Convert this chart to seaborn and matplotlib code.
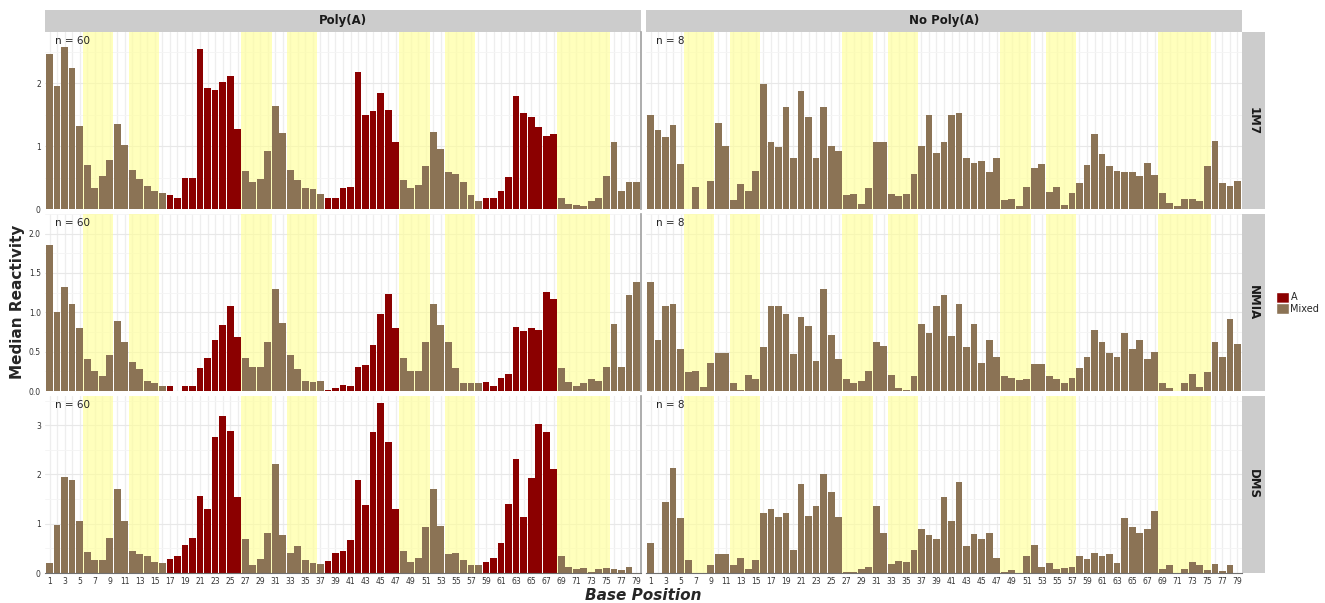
import matplotlib
matplotlib.use("Agg")
import pandas as pd
import matplotlib.pyplot as plt
import seaborn as sns
from matplotlib.patches import Rectangle, Patch

# ------------------------------
# Data
# ------------------------------
positions = list(range(1, 80))
a_positions = list(range(17, 27)) + list(range(38, 48)) + list(range(59, 69))
shaded_ranges = [(6, 9), (12, 15), (27, 30), (33, 36), (48, 51), (54, 57), (69, 75)]
conditions = ["Poly(A)", "No Poly(A)"]
reagents = ["1M7", "NMIA", "DMS"]
sample_sizes = {"Poly(A)": "n = 60", "No Poly(A)": "n = 8"}

polya_1m7 = [2.46, 1.95, 2.57, 2.24, 1.32, 0.70, 0.34, 0.53, 0.78, 1.36,
             1.02, 0.63, 0.48, 0.37, 0.29, 0.26, 0.23, 0.18, 0.50, 0.50,
             2.54, 1.93, 1.89, 2.01, 2.11, 1.27, 0.61, 0.43, 0.48, 0.93,
             1.64, 1.21, 0.63, 0.47, 0.34, 0.32, 0.24, 0.18, 0.18, 0.34,
             0.35, 2.17, 1.50, 1.56, 1.85, 1.58, 1.07, 0.47, 0.34, 0.39,
             0.68, 1.23, 0.96, 0.59, 0.56, 0.43, 0.23, 0.13, 0.18, 0.18,
             0.29, 0.51, 1.80, 1.52, 1.46, 1.31, 1.17, 1.19, 0.18, 0.08,
             0.07, 0.05, 0.13, 0.18, 0.53, 1.07, 0.29, 0.43, 0.43]
nopolya_1m7 = [1.50, 1.25, 1.15, 1.33, 0.72, 0.00, 0.35, 0.00, 0.45, 1.37,
               1.01, 0.15, 0.40, 0.29, 0.61, 1.99, 1.07, 0.99, 1.62, 0.82,
               1.87, 1.46, 0.82, 1.62, 1.01, 0.93, 0.23, 0.25, 0.08, 0.34,
               1.07, 1.07, 0.24, 0.21, 0.24, 0.56, 1.01, 1.49, 0.90, 1.07,
               1.49, 1.52, 0.82, 0.74, 0.76, 0.59, 0.82, 0.15, 0.16, 0.05,
               0.35, 0.66, 0.72, 0.28, 0.35, 0.07, 0.26, 0.42, 0.70, 1.19,
               0.88, 0.68, 0.61, 0.59, 0.59, 0.53, 0.74, 0.55, 0.26, 0.10,
               0.05, 0.16, 0.16, 0.13, 0.68, 1.09, 0.42, 0.37, 0.45]
polya_nmia = [1.86, 1.00, 1.32, 1.10, 0.80, 0.41, 0.26, 0.19, 0.46, 0.89,
              0.62, 0.37, 0.28, 0.13, 0.10, 0.07, 0.06, 0.00, 0.07, 0.07,
              0.30, 0.42, 0.65, 0.84, 1.08, 0.69, 0.42, 0.31, 0.31, 0.62,
              1.30, 0.86, 0.46, 0.28, 0.13, 0.12, 0.13, 0.01, 0.04, 0.08,
              0.06, 0.31, 0.33, 0.58, 0.98, 1.23, 0.80, 0.42, 0.26, 0.26,
              0.62, 1.10, 0.84, 0.62, 0.29, 0.10, 0.11, 0.11, 0.12, 0.07,
              0.17, 0.22, 0.82, 0.76, 0.80, 0.77, 1.26, 1.17, 0.29, 0.12,
              0.07, 0.11, 0.16, 0.13, 0.31, 0.85, 0.31, 1.22, 1.38]
nopolya_nmia = [1.38, 0.65, 1.08, 1.11, 0.54, 0.24, 0.26, 0.05, 0.36, 0.48,
                0.48, 0.10, 0.01, 0.20, 0.16, 0.56, 1.08, 1.08, 0.98, 0.47,
                0.94, 0.83, 0.38, 1.30, 0.71, 0.41, 0.16, 0.11, 0.13, 0.25,
                0.63, 0.57, 0.20, 0.04, 0.02, 0.19, 0.85, 0.74, 1.08, 1.22,
                0.70, 1.11, 0.56, 0.85, 0.36, 0.65, 0.44, 0.19, 0.17, 0.14,
                0.16, 0.35, 0.35, 0.19, 0.16, 0.11, 0.17, 0.30, 0.44, 0.77,
                0.63, 0.49, 0.44, 0.74, 0.54, 0.65, 0.41, 0.50, 0.10, 0.04,
                0.00, 0.11, 0.22, 0.05, 0.24, 0.63, 0.44, 0.92, 0.60]
polya_dms = [0.21, 0.98, 1.95, 1.89, 1.05, 0.43, 0.26, 0.27, 0.72, 1.70,
             1.05, 0.45, 0.38, 0.34, 0.23, 0.21, 0.29, 0.34, 0.57, 0.72,
             1.57, 1.29, 2.76, 3.18, 2.89, 1.54, 0.69, 0.17, 0.28, 0.82,
             2.22, 0.77, 0.40, 0.54, 0.27, 0.21, 0.18, 0.25, 0.41, 0.45,
             0.67, 1.89, 1.39, 2.86, 3.46, 2.66, 1.29, 0.45, 0.23, 0.31,
             0.93, 1.70, 0.95, 0.38, 0.41, 0.27, 0.16, 0.16, 0.23, 0.31,
             0.61, 1.40, 2.32, 1.14, 1.93, 3.02, 2.86, 2.11, 0.34, 0.13,
             0.09, 0.11, 0.03, 0.09, 0.11, 0.09, 0.07, 0.13, 0.01]
nopolya_dms = [0.61, 0.00, 1.44, 2.14, 1.11, 0.27, 0.01, 0.01, 0.16, 0.38,
               0.38, 0.16, 0.31, 0.09, 0.27, 1.22, 1.29, 1.14, 1.22, 0.47,
               1.80, 1.16, 1.36, 2.01, 1.65, 1.14, 0.03, 0.02, 0.09, 0.13,
               1.36, 0.82, 0.19, 0.25, 0.23, 0.47, 0.90, 0.77, 0.69, 1.54,
               1.05, 1.85, 0.54, 0.79, 0.69, 0.82, 0.31, 0.03, 0.07, 0.01,
               0.34, 0.57, 0.13, 0.21, 0.09, 0.11, 0.13, 0.34, 0.29, 0.41,
               0.34, 0.38, 0.21, 1.11, 0.93, 0.82, 0.90, 1.26, 0.09, 0.16,
               0.00, 0.09, 0.23, 0.16, 0.07, 0.18, 0.05, 0.16, 0.01]

series = {
    ("1M7", "Poly(A)"): polya_1m7, ("1M7", "No Poly(A)"): nopolya_1m7,
    ("NMIA", "Poly(A)"): polya_nmia, ("NMIA", "No Poly(A)"): nopolya_nmia,
    ("DMS", "Poly(A)"): polya_dms, ("DMS", "No Poly(A)"): nopolya_dms,
}

# y axis setup per reagent row
row_limits = {"1M7": 2.81, "NMIA": 2.13, "DMS": 3.6}
row_ticks = {"1M7": [0, 1, 2], "NMIA": [0, 0.5, 1.0, 1.5, 2.0], "DMS": [0, 1, 2, 3]}
row_ticklabels = {"1M7": ["0", "1", "2"], "NMIA": ["0.0", "0.5", "1.0", "1.5", "2.0"],
                  "DMS": ["0", "1", "2", "3"]}

colors = {"A": "#8B0000", "Mixed": "#8B7355"}

rows = []
for (reagent, cond), vals in series.items():
    for pos, v in zip(positions, vals):
        base = "A" if (cond == "Poly(A)" and pos in a_positions) else "Mixed"
        rows.append({"reagent": reagent, "condition": cond, "position": pos,
                     "reactivity": v, "base": base})
df = pd.DataFrame(rows)

# ------------------------------
# Plot
# ------------------------------
sns.set_theme(style="white")
plt.rcParams["font.family"] = ["DejaVu Sans"]

W, H = 1325, 603
fig, axes = plt.subplots(3, 2, figsize=(W / 100, H / 100), dpi=100, sharex=True)
fig.subplots_adjust(left=45 / W, right=1242 / W, top=1 - 32 / H, bottom=1 - 573 / H,
                    wspace=0.0084, hspace=0.025)

for i, reagent in enumerate(reagents):
    for j, cond in enumerate(conditions):
        ax = axes[i, j]
        sub = df[(df.reagent == reagent) & (df.condition == cond)]
        ax.set_axisbelow(True)
        for lo, hi in shaded_ranges:
            ax.axvspan(lo - 0.5, hi + 0.5, color="#ffff99", alpha=0.65, lw=0, zorder=0.6)
        sns.barplot(data=sub, x="position", y="reactivity", hue="base",
                    hue_order=["A", "Mixed"], palette=colors, native_scale=True,
                    dodge=False, width=0.9, errorbar=None, legend=False,
                    saturation=1, linewidth=0, zorder=2, ax=ax)

        ax.set_xlim(0.4, 79.6)
        ax.set_ylim(0, row_limits[reagent])
        ax.set_xticks(positions[::2])
        ax.set_xticks(positions[1::2], minor=True)
        ax.set_yticks(row_ticks[reagent])
        ax.set_yticks([t + (row_ticks[reagent][1] - row_ticks[reagent][0]) / 2
                       for t in row_ticks[reagent]], minor=True)
        ax.grid(True, which="both", axis="x", color="#eeeeee", lw=0.9)
        ax.grid(True, which="major", axis="y", color="#e8e8e8", lw=0.8)
        ax.grid(True, which="minor", axis="y", color="#f4f4f4", lw=0.6)
        ax.set_xlabel("")
        ax.set_ylabel("")

        for s in ["top", "left", "right", "bottom"]:
            ax.spines[s].set_visible(False)
        if j == 0:
            ax.spines["right"].set_visible(True)
            ax.spines["right"].set_color("#a0a0a0")
            ax.spines["right"].set_linewidth(1.2)
        if i == 2:
            ax.spines["bottom"].set_visible(True)
            ax.spines["bottom"].set_color("#707070")
            ax.spines["bottom"].set_linewidth(0.8)

        ax.tick_params(axis="both", which="major", labelsize=5.5, length=2, width=0.5,
                       colors="#333333", pad=1)
        ax.tick_params(axis="x", which="minor", length=0)
        ax.tick_params(axis="y", which="minor", length=0)
        if j == 0:
            ax.set_yticklabels(row_ticklabels[reagent])
        else:
            ax.tick_params(axis="y", labelleft=False, length=0)
        if i < 2:
            ax.tick_params(axis="x", labelbottom=False, length=0)
        else:
            ax.tick_params(axis="x", labelbottom=True)

        ax.text(0.017, 0.975, sample_sizes[cond], transform=ax.transAxes,
                fontsize=7.5, va="top", ha="left", color="#222222", zorder=5)

        # facet strips
        if i == 0:
            ax.add_patch(Rectangle((0, 1), 1, 22 / 177, transform=ax.transAxes,
                                   facecolor="#cccccc", edgecolor="none", clip_on=False))
            ax.text(0.5, 1 + 11 / 177, cond, transform=ax.transAxes, ha="center",
                    va="center", fontsize=8.5, fontweight="bold", color="#1a1a1a")
        if j == 1:
            ax.add_patch(Rectangle((1, 0), 23 / 597, 1, transform=ax.transAxes,
                                   facecolor="#cccccc", edgecolor="none", clip_on=False))
            ax.text(1 + 11.5 / 597, 0.5, reagent, transform=ax.transAxes, ha="center",
                    va="center", rotation=-90, fontsize=8.5, fontweight="bold",
                    color="#1a1a1a")

fig.text(18 / W, 1 - 302 / H, "Median Reactivity", rotation=90, ha="center",
         va="center", fontsize=11, fontweight="bold")
fig.text(643 / W, 1 - 595 / H, "Base Position", ha="center", va="center",
         fontsize=11, fontweight="bold", style="italic")

handles = [Patch(facecolor=colors["A"], label="A"),
           Patch(facecolor=colors["Mixed"], label="Mixed")]
fig.legend(handles=handles, loc="center left", bbox_to_anchor=(1271 / W, 1 - 303 / H),
           frameon=False, fontsize=7, handlelength=1.3, handleheight=1.3,
           handletextpad=0.2, labelspacing=0.1, borderpad=0)

fig.savefig("out.png", dpi=100)
